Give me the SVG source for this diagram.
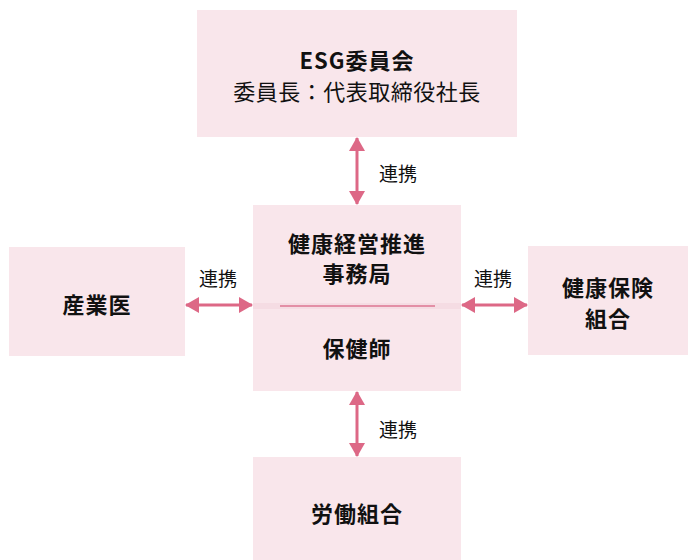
<svg xmlns="http://www.w3.org/2000/svg" width="689" height="560" viewBox="0 0 689 560">
<defs>
<marker id="ah" viewBox="0 0 14 16" refX="13" refY="8" markerWidth="14" markerHeight="16" markerUnits="userSpaceOnUse" orient="auto-start-reverse">
<path d="M0,0 L14,8 L0,16 Z" fill="#DD6886"/>
</marker>
</defs>
<style>
.box{fill:#F9E6EB}
.t{font-family:"Noto Sans CJK JP","Noto Sans",sans-serif;fill:#111;text-anchor:middle;dominant-baseline:central}
.b{font-weight:bold;font-size:22px;letter-spacing:1px}
.r{font-size:22px;letter-spacing:0.5px}
.l{font-family:"Noto Sans CJK JP",sans-serif;fill:#111;font-size:19px;text-anchor:middle;dominant-baseline:central}
.c{stroke:#DD6886;stroke-width:3;fill:none;marker-start:url(#ah);marker-end:url(#ah)}
</style>
<g id="esg">
<rect class="box" x="197" y="10" width="320" height="127"/>
<text class="t b" x="357" y="59">ESG委員会</text>
<text class="t r" x="357" y="90">委員長：代表取締役社長</text>
</g>
<g id="center">
<rect class="box" x="253" y="205" width="208" height="186"/>
<rect x="253" y="303" width="208" height="6" fill="#F5DCE3"/>
<line x1="280" y1="306" x2="435" y2="306" stroke="#E38FA6" stroke-width="2"/>
<text class="t b" x="357" y="242">健康経営推進</text>
<text class="t b" x="357" y="272">事務局</text>
<text class="t b" x="357" y="347">保健師</text>
</g>
<g id="sangyoui">
<rect class="box" x="9" y="247" width="176" height="109"/>
<text class="t b" x="97" y="303">産業医</text>
</g>
<g id="kenpo">
<rect class="box" x="528" y="246" width="160" height="109"/>
<text class="t b" x="608" y="286">健康保険</text>
<text class="t b" x="608" y="317">組合</text>
</g>
<g id="roudou">
<rect class="box" x="253" y="457" width="208" height="103"/>
<text class="t b" x="357" y="512">労働組合</text>
</g>
<g id="connectors">
<line class="c" x1="357" y1="138" x2="357" y2="204"/>
<line class="c" x1="357" y1="392" x2="357" y2="456"/>
<line class="c" x1="186" y1="305" x2="252" y2="305"/>
<line class="c" x1="462" y1="305" x2="527" y2="305"/>
<text class="l" x="398" y="172">連携</text>
<text class="l" x="398" y="428">連携</text>
<text class="l" x="218" y="277">連携</text>
<text class="l" x="493" y="277">連携</text>
</g>
</svg>
